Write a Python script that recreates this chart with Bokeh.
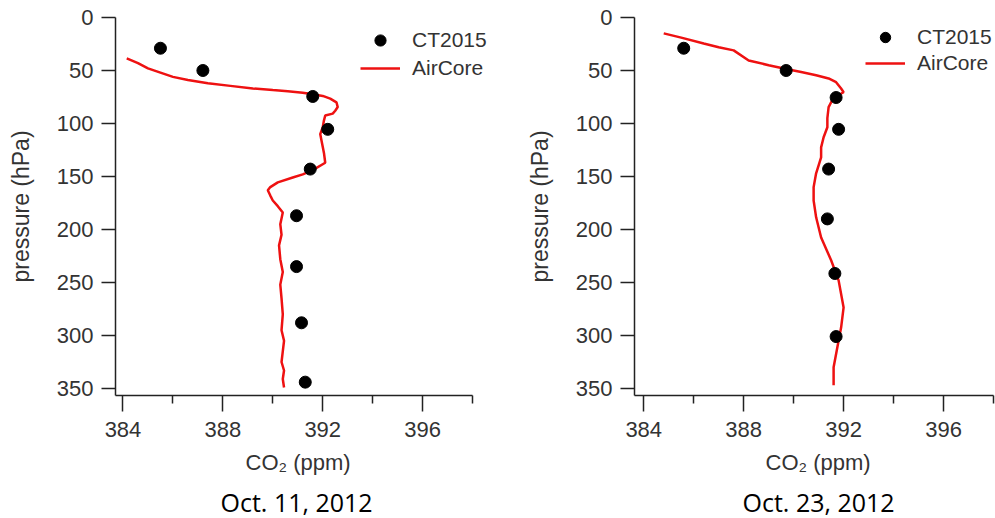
from bokeh.plotting import figure
from bokeh.models import Range1d, FixedTicker, Legend, LegendItem, Title
from bokeh.layouts import row
from bokeh.embed import file_html
from bokeh.resources import INLINE

# ---------------- data ----------------
# Oct. 11, 2012
ct_l_co2 = [385.5, 387.2, 391.6, 392.2, 391.5, 390.95, 390.95, 391.15, 391.3]
ct_l_p = [29, 50, 74.5, 105.5, 143, 187, 235, 288, 344]

ac_l_co2 = [384.15, 384.6, 385.0, 385.5, 386.0, 386.6, 387.4, 388.3, 389.2, 390.0, 390.6,
            391.2, 391.6, 392.0, 392.3, 392.55, 392.6, 392.5, 392.4, 392.1, 392.05, 392.0,
            391.9, 391.95, 392.0, 392.05, 392.1, 391.6, 391.2, 390.8, 390.2, 389.9, 389.8,
            389.9, 390.0, 390.2, 390.4, 390.3, 390.35, 390.25, 390.3, 390.4, 390.3, 390.35,
            390.4, 390.35, 390.45, 390.4, 390.35, 390.45, 390.4, 390.45]
ac_l_p = [38.5, 43, 48, 52, 56, 59, 62, 64.5, 67, 68.5, 69.5,
          71, 72.5, 74, 76.5, 80, 84.5, 88, 90.7, 92.5, 97, 103.5,
          110, 116, 122, 128, 137, 144, 148, 151, 155.5, 160, 163,
          168, 172.6, 178, 184, 195, 205, 215, 228, 240, 252, 265,
          280, 295, 305, 315, 325, 333, 341, 349]

# Oct. 23, 2012
ct_r_co2 = [385.6, 389.7, 391.7, 391.8, 391.4, 391.35, 391.65, 391.7]
ct_r_p = [29, 50, 75.5, 105.5, 143, 190, 241.5, 301]

ac_r_co2 = [384.8, 385.5, 386.4, 387.0, 387.6, 388.2, 389.0, 389.7, 390.3, 390.9, 391.4,
            391.7, 391.9, 392.0, 391.6, 391.4, 391.35, 391.35, 391.2, 391.1, 391.1, 390.9,
            390.8, 390.8, 390.9, 391.1, 391.5, 391.8, 392.0, 391.9, 391.75, 391.6, 391.6]
ac_r_p = [15, 19, 24.5, 28, 31, 40.5, 45, 48.5, 51.5, 54.5, 57.5,
          61, 67, 70.5, 75.5, 84.5, 95, 103.5, 113, 122.5, 132, 147,
          160, 172.6, 188.5, 207.5, 229, 248, 273.5, 292.5, 311, 330, 347]

x_major = [384, 388, 392, 396]
x_minor = [386, 390, 394, 398]
y_ticks = [0, 50, 100, 150, 200, 250, 300, 350]

dates = ["Oct. 11, 2012", "Oct. 23, 2012"]
series_names = ["CT2015", "AirCore"]
x_title = "CO\u2082 (ppm)"
y_title = "pressure (hPa)"

FONT = "Liberation Sans"
TXT = "#333333"
AX = "#222222"


def make(width, bl, br, xr, xbounds, ct_x, ct_y, ac_x, ac_y, date, leg_xy, row_h,
         xlab_off, date_off):
    p = figure(width=width, height=518, output_backend="svg", toolbar_location=None,
               x_range=Range1d(*xr), y_range=Range1d(356.6, 0),
               min_border_left=bl, min_border_right=br, min_border_top=17,
               min_border_bottom=123)
    p.grid.visible = False
    p.outline_line_color = None
    p.background_fill_color = "white"
    p.border_fill_color = "white"

    xa = p.xaxis[0]
    xa.bounds = xbounds
    xa.ticker = FixedTicker(ticks=x_major, minor_ticks=x_minor)
    xa.major_tick_out = 16
    xa.major_tick_in = 0
    xa.minor_tick_out = 8
    xa.minor_tick_in = 0
    xa.major_label_standoff = 10

    ya = p.yaxis[0]
    ya.ticker = FixedTicker(ticks=y_ticks)
    ya.major_tick_out = 14
    ya.major_tick_in = 0
    ya.major_label_standoff = 8
    ya.axis_label = y_title
    ya.axis_label_standoff = 20
    ya.axis_label_text_font = FONT
    ya.axis_label_text_font_size = "23px"
    ya.axis_label_text_font_style = "normal"
    ya.axis_label_text_color = TXT

    for a in (xa, ya):
        a.axis_line_color = AX
        a.axis_line_width = 1.5
        a.major_tick_line_color = AX
        a.major_tick_line_width = 1.5
        a.minor_tick_line_color = AX if a is xa else None
        a.minor_tick_line_width = 1.5
        a.major_label_text_font = FONT
        a.major_label_text_font_size = "22px"
        a.major_label_text_color = TXT

    ln = p.line(ac_x, ac_y, line_color="#ee1111", line_width=2.5)
    sc = p.scatter(ct_x, ct_y, size=12, fill_color="black", line_color="black")

    leg = Legend(items=[LegendItem(label=series_names[0], renderers=[sc]),
                        LegendItem(label=series_names[1], renderers=[ln])],
                 location=leg_xy)
    leg.glyph_width = 40
    leg.glyph_height = row_h
    leg.label_height = row_h
    leg.label_standoff = 12
    leg.spacing = 0
    leg.padding = 0
    leg.margin = 0
    leg.border_line_color = None
    leg.background_fill_alpha = 0
    leg.label_text_font = FONT
    leg.label_text_font_size = "21px"
    leg.label_text_color = TXT
    p.add_layout(leg)

    t1 = Title(text=x_title, align="left", text_font=FONT, text_font_size="22px",
               text_font_style="normal", text_color=TXT, standoff=16, offset=xlab_off)
    p.add_layout(t1, "below")
    t2 = Title(text=date, align="left", text_font="Open Sans", text_font_size="25px",
               text_font_style="normal", text_color="black", standoff=0, offset=date_off)
    p.add_layout(t2, "below")
    return p


# left: frame 115..505 px, 383.7..398 spans 115..472
p1 = make(520, 115, 15, (383.7, 399.32), (383.7, 398.0), ct_l_co2, ct_l_p, ac_l_co2, ac_l_p,
          dates[0], (245, 313), 28, 130, 105)
# right: frame 634..995 px
p2 = make(475, 114, 0, (383.63, 398.08), (383.63, 398.0), ct_r_co2, ct_r_p, ac_r_co2, ac_r_p,
          dates[1], (231, 319), 26, 131, 108)

layout = row(p1, p2)
open("out.html", "w").write(file_html(layout, INLINE))
